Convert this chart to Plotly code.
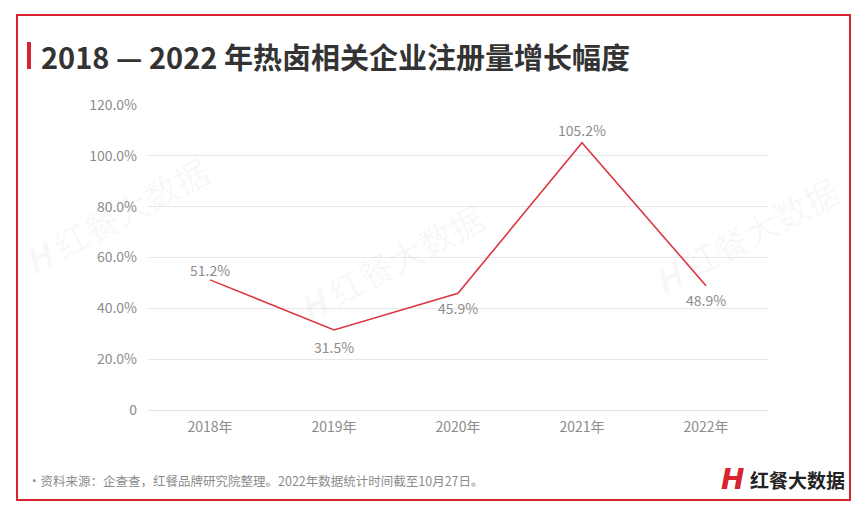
import plotly.graph_objects as go

categories = ["2018年", "2019年", "2020年", "2021年", "2022年"]
growth = [51.2, 31.5, 45.9, 105.2, 48.9]
label_shift = [10, -17, -15, 13, -14]
y_ticks = [0, 20, 40, 60, 80, 100, 120]
y_tick_text = ["0", "20.0%", "40.0%", "60.0%", "80.0%", "100.0%", "120.0%"]

W, H = 865, 521
L, R, T, B = 148, 97, 105, 111
PW, PH = W - L - R, H - T - B

def px(x):
    return (x - L) / PW

def py(y):
    return (H - B - y) / PH

CJK = "Noto Sans CJK SC"
GRAY = "#8c8c8c"

fig = go.Figure()
fig.add_trace(go.Scatter(
    x=categories, y=growth, mode="lines",
    line=dict(color="#d9383f", width=1.6),
    hoverinfo="skip", showlegend=False,
))

annotations = []
for c, v, s in zip(categories, growth, label_shift):
    annotations.append(dict(x=c, y=v, xref="x", yref="y", text=f"{v:.1f}%",
                            showarrow=False, xanchor="center", yanchor="middle",
                            yshift=s, font=dict(family=CJK, size=14, color=GRAY)))

shapes = [
    dict(type="rect", xref="paper", yref="paper",
         x0=px(17), x1=px(850), y0=py(15), y1=py(500),
         line=dict(color="#d7242e", width=2), fillcolor="rgba(0,0,0,0)", layer="above"),
    dict(type="rect", xref="paper", yref="paper",
         x0=px(27), x1=px(31), y0=py(42), y1=py(69),
         line=dict(width=0), fillcolor="#d7242e"),
]

annotations += [
    dict(text="<b>2018 — 2022 年热卤相关企业注册量增长幅度</b>", xref="paper", yref="paper",
         x=px(39), y=py(56), xanchor="left", yanchor="middle", showarrow=False,
         font=dict(family=CJK, size=29, color="#333333")),
    dict(text="·资料来源：企查查，红餐品牌研究院整理。2022年数据统计时间截至10月27日。",
         xref="paper", yref="paper", x=px(26), y=py(480), xanchor="left", yanchor="middle",
         showarrow=False, font=dict(family=CJK, size=12.5, color=GRAY)),
    dict(text="<b><i>H</i></b>", xref="paper", yref="paper", x=px(732), y=py(479),
         xanchor="center", yanchor="middle", showarrow=False,
         font=dict(family="DejaVu Sans", size=28, color="#d7242e")),
    dict(text="<b>红餐大数据</b>", xref="paper", yref="paper", x=px(748), y=py(479),
         xanchor="left", yanchor="middle", showarrow=False,
         font=dict(family=CJK, size=19, color="#222222")),
]

watermarks = [(115, 215), (390, 262), (745, 235)]
for (wx, wy) in watermarks:
    annotations.append(dict(text="<b><i>H</i></b> 红餐大数据", xref="paper", yref="paper",
                            x=px(wx), y=py(wy), xanchor="center", yanchor="middle",
                            showarrow=False, textangle=-28,
                            font=dict(family=CJK, size=34, color="rgba(0,0,0,0.04)")))

fig.update_layout(
    width=W, height=H, margin=dict(l=L, r=R, t=T, b=B),
    paper_bgcolor="white", plot_bgcolor="white",
    shapes=shapes, annotations=annotations,
    xaxis=dict(range=[-0.5, 4.5], showgrid=False, showline=True, linecolor="#e3e3e3",
               linewidth=1, ticks="", tickfont=dict(family=CJK, size=14, color=GRAY),
               fixedrange=True, ticklabelstandoff=4),
    yaxis=dict(range=[0, 120], tickvals=y_ticks, ticktext=y_tick_text,
               showgrid=True, gridcolor="#e8e8e8", gridwidth=1, zeroline=False,
               ticks="", ticklen=0, tickfont=dict(family=CJK, size=14, color=GRAY),
               fixedrange=True, ticklabelstandoff=10),
)

fig.write_html("out.html")
